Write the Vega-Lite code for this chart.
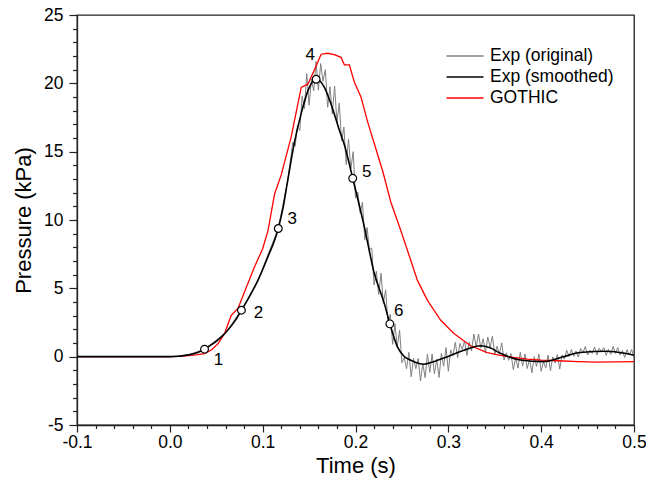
{
  "$schema": "https://vega.github.io/schema/vega-lite/v6.json",
  "width": 557,
  "height": 410,
  "autosize": "none",
  "padding": {"left": 77, "top": 15, "right": 12, "bottom": 58},
  "background": "white",
  "config": {
    "locale": {"number": {"decimal": ".", "thousands": ",", "grouping": [3], "currency": ["$", ""], "minus": "-"}},
    "font": "Liberation Sans",
    "view": {"stroke": "#222", "strokeWidth": 1.3},
    "axis": {
      "grid": false,
      "labelFont": "Liberation Sans",
      "labelFontSize": 17.5,
      "labelColor": "#000",
      "titleFont": "Liberation Sans",
      "titleFontSize": 22,
      "titleFontWeight": "normal",
      "titleColor": "#000",
      "tickColor": "#222",
      "domainColor": "#222",
      "tickWidth": 1.2,
      "domainWidth": 1.3,
      "labelOverlap": false,
      "labelBound": false,
      "labelFlush": false
    },
    "legend": {
      "orient": "none",
      "legendX": 378,
      "legendY": 31,
      "symbolType": "M-2,0H2",
      "symbolSize": 342,
      "symbolStrokeWidth": 1.5,
      "labelFont": "Liberation Sans",
      "labelFontSize": 17.5,
      "labelColor": "#000",
      "labelOffset": 15,
      "rowPadding": 2
    }
  },
  "datasets": {
    "lines": [
      {"series": "Exp (smoothed)", "t": -0.1, "p": 0},
      {"series": "Exp (smoothed)", "t": -0.05, "p": 0},
      {"series": "Exp (smoothed)", "t": 0.0, "p": 0},
      {"series": "Exp (smoothed)", "t": 0.01, "p": 0.03},
      {"series": "Exp (smoothed)", "t": 0.02, "p": 0.13},
      {"series": "Exp (smoothed)", "t": 0.03, "p": 0.3},
      {"series": "Exp (smoothed)", "t": 0.0374, "p": 0.55},
      {"series": "Exp (smoothed)", "t": 0.045, "p": 0.88},
      {"series": "Exp (smoothed)", "t": 0.05, "p": 1.12},
      {"series": "Exp (smoothed)", "t": 0.06, "p": 1.75},
      {"series": "Exp (smoothed)", "t": 0.07, "p": 2.6},
      {"series": "Exp (smoothed)", "t": 0.0771, "p": 3.4},
      {"series": "Exp (smoothed)", "t": 0.085, "p": 4.3},
      {"series": "Exp (smoothed)", "t": 0.095, "p": 5.6},
      {"series": "Exp (smoothed)", "t": 0.105, "p": 7.2},
      {"series": "Exp (smoothed)", "t": 0.1168, "p": 9.38},
      {"series": "Exp (smoothed)", "t": 0.122, "p": 10.9},
      {"series": "Exp (smoothed)", "t": 0.127, "p": 12.9},
      {"series": "Exp (smoothed)", "t": 0.134, "p": 15.6},
      {"series": "Exp (smoothed)", "t": 0.1415, "p": 17.8},
      {"series": "Exp (smoothed)", "t": 0.1487, "p": 19.45},
      {"series": "Exp (smoothed)", "t": 0.153, "p": 20.05},
      {"series": "Exp (smoothed)", "t": 0.1576, "p": 20.3},
      {"series": "Exp (smoothed)", "t": 0.162, "p": 20.15},
      {"series": "Exp (smoothed)", "t": 0.1665, "p": 19.7},
      {"series": "Exp (smoothed)", "t": 0.172, "p": 18.8},
      {"series": "Exp (smoothed)", "t": 0.177, "p": 17.8},
      {"series": "Exp (smoothed)", "t": 0.182, "p": 16.7},
      {"series": "Exp (smoothed)", "t": 0.188, "p": 15.5},
      {"series": "Exp (smoothed)", "t": 0.197, "p": 13.05},
      {"series": "Exp (smoothed)", "t": 0.2095, "p": 9.5},
      {"series": "Exp (smoothed)", "t": 0.2202, "p": 6.1},
      {"series": "Exp (smoothed)", "t": 0.231, "p": 3.9},
      {"series": "Exp (smoothed)", "t": 0.237, "p": 2.4},
      {"series": "Exp (smoothed)", "t": 0.2453, "p": 0.7},
      {"series": "Exp (smoothed)", "t": 0.252, "p": 0.05},
      {"series": "Exp (smoothed)", "t": 0.2596, "p": -0.26},
      {"series": "Exp (smoothed)", "t": 0.2738, "p": -0.55},
      {"series": "Exp (smoothed)", "t": 0.285, "p": -0.35},
      {"series": "Exp (smoothed)", "t": 0.2953, "p": -0.1},
      {"series": "Exp (smoothed)", "t": 0.3168, "p": 0.47},
      {"series": "Exp (smoothed)", "t": 0.3347, "p": 0.8},
      {"series": "Exp (smoothed)", "t": 0.345, "p": 0.65},
      {"series": "Exp (smoothed)", "t": 0.356, "p": 0.25},
      {"series": "Exp (smoothed)", "t": 0.3776, "p": -0.24},
      {"series": "Exp (smoothed)", "t": 0.4026, "p": -0.36},
      {"series": "Exp (smoothed)", "t": 0.424, "p": 0.0},
      {"series": "Exp (smoothed)", "t": 0.442, "p": 0.3},
      {"series": "Exp (smoothed)", "t": 0.4707, "p": 0.4},
      {"series": "Exp (smoothed)", "t": 0.49, "p": 0.25},
      {"series": "Exp (smoothed)", "t": 0.5, "p": 0.1},

      {"series": "GOTHIC", "t": -0.1, "p": 0},
      {"series": "GOTHIC", "t": 0.0, "p": 0},
      {"series": "GOTHIC", "t": 0.01, "p": 0.02},
      {"series": "GOTHIC", "t": 0.02, "p": 0.08},
      {"series": "GOTHIC", "t": 0.03, "p": 0.15},
      {"series": "GOTHIC", "t": 0.0377, "p": 0.22},
      {"series": "GOTHIC", "t": 0.045, "p": 0.5},
      {"series": "GOTHIC", "t": 0.052, "p": 0.95},
      {"series": "GOTHIC", "t": 0.059, "p": 1.7},
      {"series": "GOTHIC", "t": 0.066, "p": 3.0},
      {"series": "GOTHIC", "t": 0.0735, "p": 3.55},
      {"series": "GOTHIC", "t": 0.082, "p": 5.0},
      {"series": "GOTHIC", "t": 0.0914, "p": 6.6},
      {"series": "GOTHIC", "t": 0.1, "p": 7.9},
      {"series": "GOTHIC", "t": 0.1057, "p": 9.2},
      {"series": "GOTHIC", "t": 0.1128, "p": 11.9},
      {"series": "GOTHIC", "t": 0.12, "p": 13.3},
      {"series": "GOTHIC", "t": 0.1308, "p": 16.1},
      {"series": "GOTHIC", "t": 0.1415, "p": 19.7},
      {"series": "GOTHIC", "t": 0.1487, "p": 19.94},
      {"series": "GOTHIC", "t": 0.1558, "p": 21.0},
      {"series": "GOTHIC", "t": 0.163, "p": 22.13},
      {"series": "GOTHIC", "t": 0.17, "p": 22.2},
      {"series": "GOTHIC", "t": 0.1772, "p": 22.1},
      {"series": "GOTHIC", "t": 0.1844, "p": 21.9},
      {"series": "GOTHIC", "t": 0.188, "p": 21.35},
      {"series": "GOTHIC", "t": 0.1934, "p": 21.35},
      {"series": "GOTHIC", "t": 0.1987, "p": 20.1},
      {"series": "GOTHIC", "t": 0.2059, "p": 19.0},
      {"series": "GOTHIC", "t": 0.213, "p": 17.2},
      {"series": "GOTHIC", "t": 0.2202, "p": 15.6},
      {"series": "GOTHIC", "t": 0.2292, "p": 13.6},
      {"series": "GOTHIC", "t": 0.2381, "p": 11.3},
      {"series": "GOTHIC", "t": 0.2488, "p": 9.23},
      {"series": "GOTHIC", "t": 0.2596, "p": 7.04},
      {"series": "GOTHIC", "t": 0.2667, "p": 5.58},
      {"series": "GOTHIC", "t": 0.2775, "p": 4.12},
      {"series": "GOTHIC", "t": 0.2918, "p": 2.66},
      {"series": "GOTHIC", "t": 0.306, "p": 1.69},
      {"series": "GOTHIC", "t": 0.324, "p": 0.8},
      {"series": "GOTHIC", "t": 0.3419, "p": 0.3},
      {"series": "GOTHIC", "t": 0.356, "p": 0.1},
      {"series": "GOTHIC", "t": 0.37, "p": -0.05},
      {"series": "GOTHIC", "t": 0.385, "p": -0.18},
      {"series": "GOTHIC", "t": 0.4, "p": -0.26},
      {"series": "GOTHIC", "t": 0.418, "p": -0.3},
      {"series": "GOTHIC", "t": 0.44, "p": -0.36},
      {"series": "GOTHIC", "t": 0.46, "p": -0.4},
      {"series": "GOTHIC", "t": 0.48, "p": -0.38},
      {"series": "GOTHIC", "t": 0.5, "p": -0.36},

      {"series": "Exp (original)", "t": -0.1, "p": 0},
      {"series": "Exp (original)", "t": 0.0, "p": 0},
      {"series": "Exp (original)", "t": 0.02, "p": 0.13},
      {"series": "Exp (original)", "t": 0.0374, "p": 0.55},
      {"series": "Exp (original)", "t": 0.06, "p": 1.75},
      {"series": "Exp (original)", "t": 0.0771, "p": 3.4},
      {"series": "Exp (original)", "t": 0.095, "p": 5.6},
      {"series": "Exp (original)", "t": 0.1168, "p": 9.38},
      {"series": "Exp (original)", "t": 0.127, "p": 12.9},
      {"series": "Exp (original)", "t": 0.1325, "p": 15.7},
      {"series": "Exp (original)", "t": 0.135, "p": 15.4},
      {"series": "Exp (original)", "t": 0.1375, "p": 16.9},
      {"series": "Exp (original)", "t": 0.14, "p": 16.55},
      {"series": "Exp (original)", "t": 0.1425, "p": 19.05},
      {"series": "Exp (original)", "t": 0.145, "p": 18.15},
      {"series": "Exp (original)", "t": 0.1475, "p": 20.7},
      {"series": "Exp (original)", "t": 0.15, "p": 18.4},
      {"series": "Exp (original)", "t": 0.1525, "p": 20.3},
      {"series": "Exp (original)", "t": 0.155, "p": 19.45},
      {"series": "Exp (original)", "t": 0.1575, "p": 21.6},
      {"series": "Exp (original)", "t": 0.16, "p": 19.5},
      {"series": "Exp (original)", "t": 0.1625, "p": 21.45},
      {"series": "Exp (original)", "t": 0.165, "p": 20.15},
      {"series": "Exp (original)", "t": 0.1675, "p": 21.0},
      {"series": "Exp (original)", "t": 0.17, "p": 18.25},
      {"series": "Exp (original)", "t": 0.1725, "p": 19.75},
      {"series": "Exp (original)", "t": 0.175, "p": 17.75},
      {"series": "Exp (original)", "t": 0.1775, "p": 19.8},
      {"series": "Exp (original)", "t": 0.18, "p": 17.15},
      {"series": "Exp (original)", "t": 0.1825, "p": 18.55},
      {"series": "Exp (original)", "t": 0.185, "p": 15.8},
      {"series": "Exp (original)", "t": 0.1875, "p": 16.8},
      {"series": "Exp (original)", "t": 0.19, "p": 14.05},
      {"series": "Exp (original)", "t": 0.1925, "p": 15.9},
      {"series": "Exp (original)", "t": 0.195, "p": 13.75},
      {"series": "Exp (original)", "t": 0.1975, "p": 15.0},
      {"series": "Exp (original)", "t": 0.2, "p": 11.6},
      {"series": "Exp (original)", "t": 0.2025, "p": 12.05},
      {"series": "Exp (original)", "t": 0.205, "p": 10.5},
      {"series": "Exp (original)", "t": 0.2075, "p": 11.3},
      {"series": "Exp (original)", "t": 0.21, "p": 8.55},
      {"series": "Exp (original)", "t": 0.2125, "p": 9.45},
      {"series": "Exp (original)", "t": 0.215, "p": 7.8},
      {"series": "Exp (original)", "t": 0.2175, "p": 7.95},
      {"series": "Exp (original)", "t": 0.22, "p": 5.25},
      {"series": "Exp (original)", "t": 0.2225, "p": 6.25},
      {"series": "Exp (original)", "t": 0.225, "p": 4.55},
      {"series": "Exp (original)", "t": 0.2275, "p": 6.1},
      {"series": "Exp (original)", "t": 0.23, "p": 3.9},
      {"series": "Exp (original)", "t": 0.2325, "p": 4.9},
      {"series": "Exp (original)", "t": 0.235, "p": 2.5},
      {"series": "Exp (original)", "t": 0.2375, "p": 3.1},
      {"series": "Exp (original)", "t": 0.24, "p": 0.9},
      {"series": "Exp (original)", "t": 0.2425, "p": 2.4},
      {"series": "Exp (original)", "t": 0.245, "p": 0.7},
      {"series": "Exp (original)", "t": 0.2475, "p": 1.95},
      {"series": "Exp (original)", "t": 0.25, "p": -0.45},
      {"series": "Exp (original)", "t": 0.2525, "p": -0.07},
      {"series": "Exp (original)", "t": 0.255, "p": -0.88},
      {"series": "Exp (original)", "t": 0.2575, "p": 0.32},
      {"series": "Exp (original)", "t": 0.26, "p": -1.47},
      {"series": "Exp (original)", "t": 0.2625, "p": -0.13},
      {"series": "Exp (original)", "t": 0.265, "p": -0.88},
      {"series": "Exp (original)", "t": 0.2675, "p": -0.13},
      {"series": "Exp (original)", "t": 0.27, "p": -1.78},
      {"series": "Exp (original)", "t": 0.2725, "p": -0.52},
      {"series": "Exp (original)", "t": 0.275, "p": -1.54},
      {"series": "Exp (original)", "t": 0.2775, "p": 0.2},
      {"series": "Exp (original)", "t": 0.28, "p": -1.15},
      {"series": "Exp (original)", "t": 0.2825, "p": 0.2},
      {"series": "Exp (original)", "t": 0.285, "p": -1.25},
      {"series": "Exp (original)", "t": 0.2875, "p": -0.19},
      {"series": "Exp (original)", "t": 0.29, "p": -1.52},
      {"series": "Exp (original)", "t": 0.2925, "p": 0.24},
      {"series": "Exp (original)", "t": 0.295, "p": -0.7},
      {"series": "Exp (original)", "t": 0.2975, "p": 0.66},
      {"series": "Exp (original)", "t": 0.3, "p": -1.07},
      {"series": "Exp (original)", "t": 0.3025, "p": 0.49},
      {"series": "Exp (original)", "t": 0.305, "p": 0.07},
      {"series": "Exp (original)", "t": 0.3075, "p": 1.05},
      {"series": "Exp (original)", "t": 0.31, "p": -0.08},
      {"series": "Exp (original)", "t": 0.3125, "p": 0.96},
      {"series": "Exp (original)", "t": 0.315, "p": 0.53},
      {"series": "Exp (original)", "t": 0.3175, "p": 1.15},
      {"series": "Exp (original)", "t": 0.32, "p": 0.09},
      {"series": "Exp (original)", "t": 0.3225, "p": 1.06},
      {"series": "Exp (original)", "t": 0.325, "p": 0.41},
      {"series": "Exp (original)", "t": 0.3275, "p": 1.65},
      {"series": "Exp (original)", "t": 0.33, "p": 0.71},
      {"series": "Exp (original)", "t": 0.3325, "p": 1.66},
      {"series": "Exp (original)", "t": 0.335, "p": 0.63},
      {"series": "Exp (original)", "t": 0.3375, "p": 1.31},
      {"series": "Exp (original)", "t": 0.34, "p": 0.29},
      {"series": "Exp (original)", "t": 0.3425, "p": 1.44},
      {"series": "Exp (original)", "t": 0.345, "p": 0.69},
      {"series": "Exp (original)", "t": 0.3475, "p": 1.51},
      {"series": "Exp (original)", "t": 0.35, "p": 0.16},
      {"series": "Exp (original)", "t": 0.3525, "p": 0.77},
      {"series": "Exp (original)", "t": 0.355, "p": 0.19},
      {"series": "Exp (original)", "t": 0.3575, "p": 1.01},
      {"series": "Exp (original)", "t": 0.36, "p": -0.24},
      {"series": "Exp (original)", "t": 0.3625, "p": 0.28},
      {"series": "Exp (original)", "t": 0.365, "p": -0.27},
      {"series": "Exp (original)", "t": 0.3675, "p": 0.23},
      {"series": "Exp (original)", "t": 0.37, "p": -0.95},
      {"series": "Exp (original)", "t": 0.3725, "p": -0.09},
      {"series": "Exp (original)", "t": 0.375, "p": -0.84},
      {"series": "Exp (original)", "t": 0.3775, "p": 0.31},
      {"series": "Exp (original)", "t": 0.38, "p": -0.69},
      {"series": "Exp (original)", "t": 0.3825, "p": 0.2},
      {"series": "Exp (original)", "t": 0.385, "p": -0.87},
      {"series": "Exp (original)", "t": 0.3875, "p": -0.19},
      {"series": "Exp (original)", "t": 0.39, "p": -1.18},
      {"series": "Exp (original)", "t": 0.3925, "p": 0.0},
      {"series": "Exp (original)", "t": 0.395, "p": -0.71},
      {"series": "Exp (original)", "t": 0.3975, "p": 0.19},
      {"series": "Exp (original)", "t": 0.4, "p": -1.07},
      {"series": "Exp (original)", "t": 0.4025, "p": -0.37},
      {"series": "Exp (original)", "t": 0.405, "p": -0.83},
      {"series": "Exp (original)", "t": 0.4075, "p": 0.12},
      {"series": "Exp (original)", "t": 0.41, "p": -1.03},
      {"series": "Exp (original)", "t": 0.4125, "p": -0.01},
      {"series": "Exp (original)", "t": 0.415, "p": -0.45},
      {"series": "Exp (original)", "t": 0.4175, "p": 0.16},
      {"series": "Exp (original)", "t": 0.42, "p": -0.91},
      {"series": "Exp (original)", "t": 0.4225, "p": 0.13},
      {"series": "Exp (original)", "t": 0.425, "p": -0.18},
      {"series": "Exp (original)", "t": 0.4275, "p": 0.47},
      {"series": "Exp (original)", "t": 0.43, "p": 0.02},
      {"series": "Exp (original)", "t": 0.4325, "p": 0.52},
      {"series": "Exp (original)", "t": 0.435, "p": 0.03},
      {"series": "Exp (original)", "t": 0.4375, "p": 0.42},
      {"series": "Exp (original)", "t": 0.44, "p": -0.03},
      {"series": "Exp (original)", "t": 0.4425, "p": 0.6},
      {"series": "Exp (original)", "t": 0.445, "p": 0.27},
      {"series": "Exp (original)", "t": 0.4475, "p": 0.74},
      {"series": "Exp (original)", "t": 0.45, "p": 0.12},
      {"series": "Exp (original)", "t": 0.4525, "p": 0.48},
      {"series": "Exp (original)", "t": 0.455, "p": 0.24},
      {"series": "Exp (original)", "t": 0.4575, "p": 0.71},
      {"series": "Exp (original)", "t": 0.46, "p": 0.12},
      {"series": "Exp (original)", "t": 0.4625, "p": 0.62},
      {"series": "Exp (original)", "t": 0.465, "p": 0.38},
      {"series": "Exp (original)", "t": 0.4675, "p": 0.66},
      {"series": "Exp (original)", "t": 0.47, "p": 0.1},
      {"series": "Exp (original)", "t": 0.4725, "p": 0.54},
      {"series": "Exp (original)", "t": 0.475, "p": 0.17},
      {"series": "Exp (original)", "t": 0.4775, "p": 0.75},
      {"series": "Exp (original)", "t": 0.48, "p": 0.24},
      {"series": "Exp (original)", "t": 0.4825, "p": 0.67},
      {"series": "Exp (original)", "t": 0.485, "p": 0.12},
      {"series": "Exp (original)", "t": 0.4875, "p": 0.45},
      {"series": "Exp (original)", "t": 0.49, "p": -0.06},
      {"series": "Exp (original)", "t": 0.4925, "p": 0.51},
      {"series": "Exp (original)", "t": 0.495, "p": 0.12},
      {"series": "Exp (original)", "t": 0.4975, "p": 0.53},
      {"series": "Exp (original)", "t": 0.5, "p": -0.13}
    ],
    "markers": [
      {"t": 0.0374, "p": 0.55, "label": "1"},
      {"t": 0.0771, "p": 3.4, "label": "2"},
      {"t": 0.1168, "p": 9.38, "label": "3"},
      {"t": 0.1576, "p": 20.3, "label": "4"},
      {"t": 0.197, "p": 13.05, "label": "5"},
      {"t": 0.237, "p": 2.4, "label": "6"}
    ]
  },
  "layer": [
    {
      "data": {"name": "lines"},
      "transform": [{"filter": "datum.series === 'Exp (original)'"}],
      "mark": {"type": "line", "strokeWidth": 1, "clip": true},
      "encoding": {
        "x": {"field": "t", "type": "quantitative", "sort": null,
          "scale": {"domain": [-0.1, 0.5], "nice": false, "zero": false},
          "axis": {"title": "Time (s)", "orient": "bottom", "values": [-0.1, 0, 0.1, 0.2, 0.3, 0.4, 0.5], "format": ".1f", "tickSize": 7, "labelPadding": 1, "titlePadding": 5}},
        "y": {"field": "p", "type": "quantitative",
          "scale": {"domain": [-5, 25], "nice": false, "zero": false},
          "axis": {"title": "Pressure (kPa)", "orient": "left", "values": [-5, 0, 5, 10, 15, 20, 25], "format": "d", "tickSize": 8, "labelPadding": 6, "titlePadding": 8}},
        "color": {"field": "series", "type": "nominal",
          "scale": {"domain": ["Exp (original)", "Exp (smoothed)", "GOTHIC"], "range": ["#808080", "#000000", "#ff0000"]},
          "legend": {"title": null}}
      }
    },
    {
      "data": {"name": "lines"},
      "transform": [{"filter": "datum.series === 'GOTHIC'"}],
      "mark": {"type": "line", "strokeWidth": 1.3, "clip": true},
      "encoding": {
        "x": {"field": "t", "type": "quantitative", "sort": null,
          "axis": {"title": null, "orient": "bottom", "values": [-0.08, -0.06, -0.04, -0.02, 0.02, 0.04, 0.06, 0.08, 0.12, 0.14, 0.16, 0.18, 0.22, 0.24, 0.26, 0.28, 0.32, 0.34, 0.36, 0.38, 0.42, 0.44, 0.46, 0.48], "labels": false, "domain": false, "tickSize": 3.5}},
        "y": {"field": "p", "type": "quantitative",
          "axis": {"title": null, "orient": "left", "values": [-4, -3, -2, -1, 1, 2, 3, 4, 6, 7, 8, 9, 11, 12, 13, 14, 16, 17, 18, 19, 21, 22, 23, 24], "labels": false, "domain": false, "tickSize": 4.5}},
        "color": {"field": "series", "type": "nominal"}
      }
    },
    {
      "data": {"name": "lines"},
      "transform": [{"filter": "datum.series === 'Exp (smoothed)'"}],
      "mark": {"type": "line", "strokeWidth": 1.6, "interpolate": "monotone", "clip": true},
      "encoding": {
        "x": {"field": "t", "type": "quantitative", "sort": null, "axis": null},
        "y": {"field": "p", "type": "quantitative", "axis": null},
        "color": {"field": "series", "type": "nominal"}
      }
    },
    {
      "data": {"name": "markers"},
      "mark": {"type": "point", "filled": true, "fill": "white", "stroke": "black", "strokeWidth": 1.2, "size": 60, "opacity": 1},
      "encoding": {
        "x": {"field": "t", "type": "quantitative", "axis": null},
        "y": {"field": "p", "type": "quantitative", "axis": null}
      }
    },
    {
      "data": {"name": "markers"},
      "transform": [{"filter": "datum.label === '1'"}],
      "mark": {"type": "text", "fontSize": 17, "font": "Liberation Sans", "color": "#000", "dx": 14, "dy": 11},
      "encoding": {"x": {"field": "t", "type": "quantitative", "axis": null}, "y": {"field": "p", "type": "quantitative", "axis": null}, "text": {"field": "label"}}
    },
    {
      "data": {"name": "markers"},
      "transform": [{"filter": "datum.label === '2'"}],
      "mark": {"type": "text", "fontSize": 17, "font": "Liberation Sans", "color": "#000", "dx": 17, "dy": 3},
      "encoding": {"x": {"field": "t", "type": "quantitative", "axis": null}, "y": {"field": "p", "type": "quantitative", "axis": null}, "text": {"field": "label"}}
    },
    {
      "data": {"name": "markers"},
      "transform": [{"filter": "datum.label === '3'"}],
      "mark": {"type": "text", "fontSize": 17, "font": "Liberation Sans", "color": "#000", "dx": 14, "dy": -9},
      "encoding": {"x": {"field": "t", "type": "quantitative", "axis": null}, "y": {"field": "p", "type": "quantitative", "axis": null}, "text": {"field": "label"}}
    },
    {
      "data": {"name": "markers"},
      "transform": [{"filter": "datum.label === '4'"}],
      "mark": {"type": "text", "fontSize": 17, "font": "Liberation Sans", "color": "#000", "dx": -6, "dy": -24},
      "encoding": {"x": {"field": "t", "type": "quantitative", "axis": null}, "y": {"field": "p", "type": "quantitative", "axis": null}, "text": {"field": "label"}}
    },
    {
      "data": {"name": "markers"},
      "transform": [{"filter": "datum.label === '5'"}],
      "mark": {"type": "text", "fontSize": 17, "font": "Liberation Sans", "color": "#000", "dx": 14, "dy": -6},
      "encoding": {"x": {"field": "t", "type": "quantitative", "axis": null}, "y": {"field": "p", "type": "quantitative", "axis": null}, "text": {"field": "label"}}
    },
    {
      "data": {"name": "markers"},
      "transform": [{"filter": "datum.label === '6'"}],
      "mark": {"type": "text", "fontSize": 17, "font": "Liberation Sans", "color": "#000", "dx": 9, "dy": -13},
      "encoding": {"x": {"field": "t", "type": "quantitative", "axis": null}, "y": {"field": "p", "type": "quantitative", "axis": null}, "text": {"field": "label"}}
    }
  ],
  "resolve": {"axis": {"x": "independent", "y": "independent"}}
}
